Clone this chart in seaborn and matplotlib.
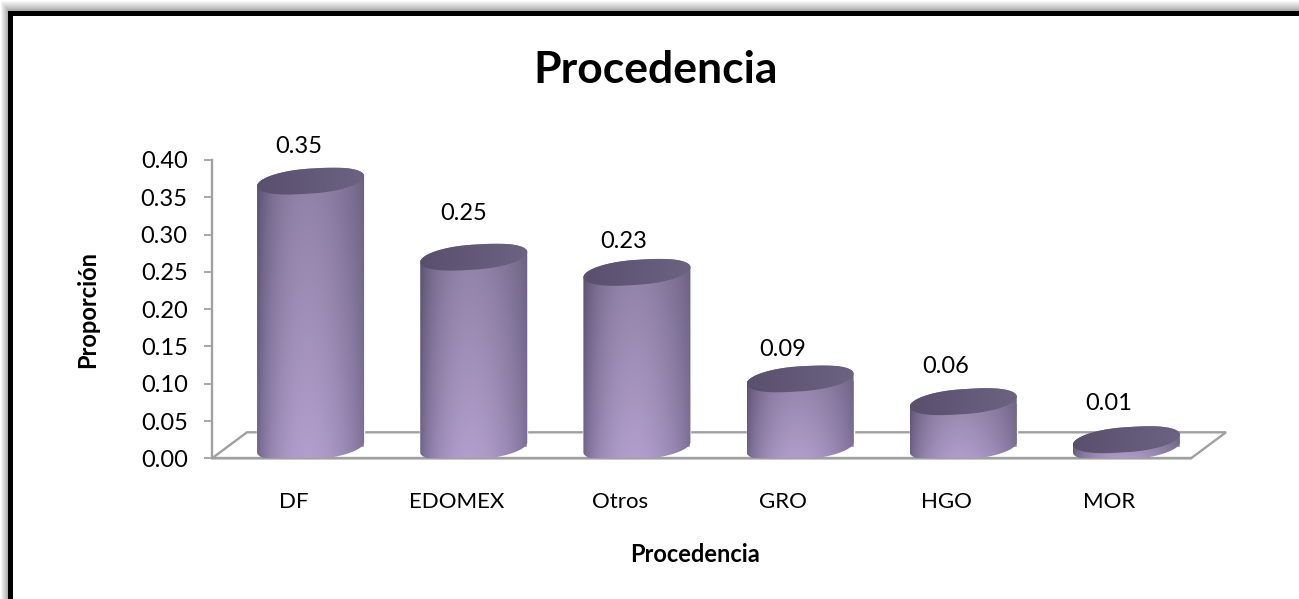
import numpy as np
import pandas as pd
import matplotlib
matplotlib.use("Agg")
import matplotlib.pyplot as plt
from matplotlib.patches import PathPatch, Polygon
from matplotlib.path import Path
import seaborn as sns

categories = ["DF", "EDOMEX", "Otros", "GRO", "HGO", "MOR"]
proportions = [0.35, 0.25, 0.23, 0.09, 0.06, 0.01]
y_ticks = [0.00, 0.05, 0.10, 0.15, 0.20, 0.25, 0.30, 0.35, 0.40]

W, H = 1299, 599
AX_L, AX_R, AX_T, AX_B = 212, 1191, 160, 458.3
GREY = "#a0a0a0"

sns.set_theme(style="white")
plt.rcParams["font.family"] = ["Lato", "DejaVu Sans"]

fig = plt.figure(figsize=(W / 100, H / 100), dpi=100, facecolor="white")

# Page frame: thick black rule on the top and left with a soft outer shadow
yy, xx = np.mgrid[0:H, 0:W].astype(float)
dist_left = np.clip((8 - xx) / 8, 0, 1)
dist_top = np.clip((11 - yy) / 11, 0, 1)
outside = np.maximum(dist_left, dist_top)
canvas = 1 - 0.36 * (1 - outside) * (outside > 0)
canvas[11:16, 8:] = 0
canvas[11:, 8:13] = 0
fig.figimage(canvas, cmap="gray", vmin=0, vmax=1, origin="upper", zorder=-1)

ax = fig.add_axes([AX_L / W, 1 - AX_B / H, (AX_R - AX_L) / W, (AX_B - AX_T) / H])
ax.patch.set_alpha(0)

df = pd.DataFrame({"Procedencia": categories, "Proporción": proportions})
sns.barplot(data=df, x="Procedencia", y="Proporción", color="#9a8bb2",
            width=0.656, saturation=1, ax=ax, zorder=3)
ax.set_xlim(-0.5, 5.5)
ax.set_ylim(0, 0.4)

px_x = (AX_R - AX_L) / 6      # pixels per category
px_y = (AX_B - AX_T) / 0.4    # pixels per unit of proportion

# Floor of the 3D plot box
depth_x, depth_y = 35 / px_x, 26 / px_y
ax.add_patch(Polygon([(-0.5, 0), (-0.5 + depth_x, depth_y),
                      (5.5 + depth_x, depth_y), (5.5, 0)],
                     closed=True, fill=False, edgecolor=GREY, lw=1.7,
                     clip_on=False, zorder=1))


def lerp(c0, c1, f):
    return c0 + (c1 - c0) * f


def rgb(hex_code):
    return np.array(matplotlib.colors.to_rgb(hex_code))


def side_shading(n=160):
    """Lit cylinder wall: dark at both edges, brightest just right of centre, lighter low down."""
    t = np.linspace(0, 1, n)[None, :]
    v = np.linspace(0, 1, n)[:, None]
    lit = np.sin(np.pi * t ** 0.92) ** 0.75
    centre = lerp(rgb("#8e80a5")[None, None], rgb("#b39fcd")[None, None], v[..., None])
    left = lerp(rgb("#574d6b")[None, None], rgb("#6e6288")[None, None], v[..., None])
    right = lerp(rgb("#6a5f80")[None, None], rgb("#7a6e96")[None, None], v[..., None])
    edge = lerp(left, right, t[..., None])
    return lerp(edge, centre, lit[..., None])


def top_shading(n=80):
    t = np.linspace(0, 1, n)[None, :, None]
    return lerp(rgb("#5a4f6d")[None, None], rgb("#6c6282")[None, None], t) * np.ones((n, n, 3))


def ellipse_arc(cx, cy, a, shear, v, t0, t1, n=80):
    # Slightly squared-off ellipse, tilted by shearing y against x
    t = np.linspace(t0, t1, n)
    c, s = np.cos(t), np.sin(t)
    blunt = np.sign(c) * np.abs(c) ** 0.85
    return np.column_stack([cx + a * blunt, cy + shear * c + v * s])


# Turn each bar into a tilted cylinder standing on the floor
shear, v_rad = 5 / px_y, 12.5 / px_y
base_y = 11 / px_y
persp = 1.02
wall, lid = side_shading(), top_shading()
label_dx = [5, 7, 4, 0, -1, -1]
label_dy = [51, 58, 45, 42, 47, 47]
for i, (bar, value, ldx, ldy) in enumerate(zip(ax.patches, proportions, label_dx, label_dy)):
    a = bar.get_width() / 2
    cx = bar.get_x() + a + 17 / px_x
    bar.set_x(cx - a)
    bar.set_y(base_y)
    top_y = base_y + value * persp

    outline = np.vstack([ellipse_arc(cx, base_y, a, shear, v_rad, np.pi, 2 * np.pi),
                         ellipse_arc(cx, top_y, a, shear, v_rad, 0, np.pi)])
    body = PathPatch(Path(np.vstack([outline, outline[0]])), fc="none", ec="none",
                     transform=ax.transData)
    ax.add_patch(body)
    im = ax.imshow(wall, extent=[cx - a, cx + a, base_y - v_rad - shear, top_y + v_rad],
                   aspect="auto", origin="upper", interpolation="bilinear", zorder=4)
    im.set_clip_path(body)
    im.set_clip_box(None)

    rim = ellipse_arc(cx, top_y, a, shear, v_rad, 0, 2 * np.pi)
    cap = PathPatch(Path(rim), fc="none", ec="none", transform=ax.transData)
    ax.add_patch(cap)
    im2 = ax.imshow(lid, extent=[cx - a, cx + a, top_y - v_rad - shear, top_y + v_rad + shear],
                    aspect="auto", origin="upper", interpolation="bilinear", zorder=5)
    im2.set_clip_path(cap)

    ax.annotate(f"{value:.2f}", xy=(i, value), xytext=(ldx, ldy),
                textcoords="offset pixels", ha="center", va="center",
                fontsize=17, color="black", zorder=6, annotation_clip=False)

ax.set_xlim(-0.5, 5.5)
ax.set_ylim(0, 0.4)
ax.set_xticks(range(len(categories)), categories)
ax.set_yticks(y_ticks, [f"{t:.2f}" for t in y_ticks])
ax.tick_params(axis="x", length=0, pad=24, labelsize=16, labelcolor="black")
ax.tick_params(axis="y", length=5.5, width=1.3, color=GREY, pad=12, labelsize=17, labelcolor="black",
               left=True)
ax.set_xlabel("")
ax.set_ylabel("")
for side in ("top", "right"):
    ax.spines[side].set_visible(False)
for side in ("left", "bottom"):
    ax.spines[side].set_color(GREY)
    ax.spines[side].set_linewidth(1.7)

fig.text(656 / W, 1 - 70 / H, "Procedencia", fontsize=32, fontweight="bold",
         ha="center", va="center", color="black")
fig.text(695.5 / W, 1 - 555 / H, "Procedencia", fontsize=17, fontweight="bold",
         ha="center", va="center", color="black")
fig.text(88 / W, 1 - 310 / H, "Proporción", fontsize=17, fontweight="bold",
         rotation=90, ha="center", va="center", color="black")

fig.savefig("out.png", dpi=100)
